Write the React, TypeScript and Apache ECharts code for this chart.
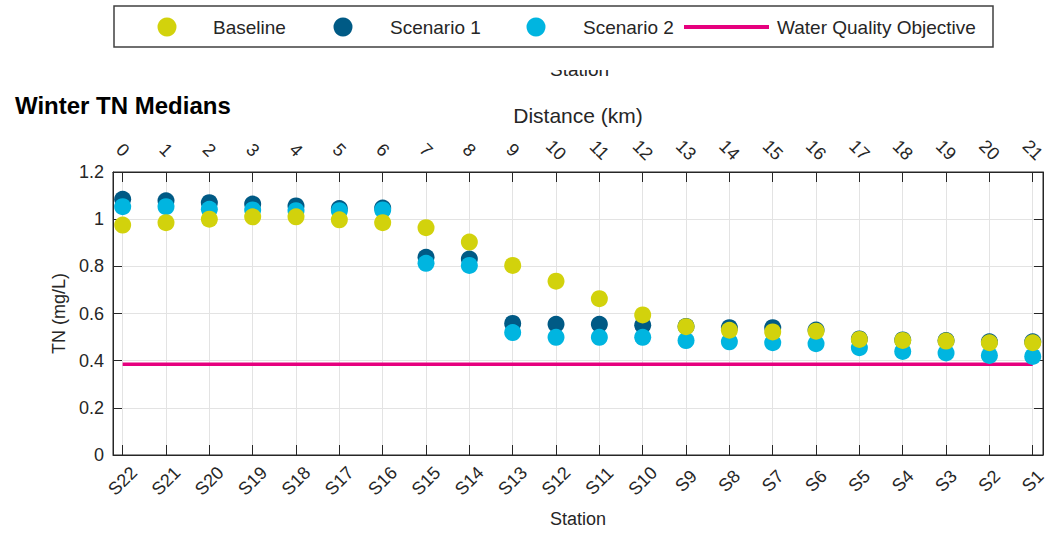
import React, { useEffect, useRef } from "react";
import * as echarts from "echarts";

const stations = ["S22", "S21", "S20", "S19", "S18", "S17", "S16", "S15", "S14", "S13", "S12", "S11", "S10", "S9", "S8", "S7", "S6", "S5", "S4", "S3", "S2", "S1"];
const distanceKm = [0, 1, 2, 3, 4, 5, 6, 7, 8, 9, 10, 11, 12, 13, 14, 15, 16, 17, 18, 19, 20, 21];
const baseline = [0.975, 0.985, 1.0, 1.01, 1.01, 0.997, 0.985, 0.964, 0.903, 0.804, 0.737, 0.663, 0.594, 0.544, 0.529, 0.522, 0.525, 0.49, 0.486, 0.483, 0.476, 0.476];
const scenario1 = [1.084, 1.078, 1.07, 1.064, 1.056, 1.045, 1.047, 0.838, 0.831, 0.558, 0.554, 0.554, 0.55, 0.545, 0.54, 0.54, 0.53, 0.492, 0.488, 0.485, 0.48, 0.48];
const scenario2 = [1.053, 1.053, 1.042, 1.039, 1.036, 1.036, 1.039, 0.813, 0.804, 0.519, 0.499, 0.499, 0.499, 0.485, 0.48, 0.476, 0.472, 0.455, 0.439, 0.433, 0.422, 0.418];
const waterQualityObjective = 0.385;

const FONT = "'Liberation Sans', Arial, sans-serif";
const TXT = "#262626";
const C_BASE = "#d2d20c";
const C_S1 = "#005a85";
const C_S2 = "#00b5e0";
const C_WQO = "#e6007e";

export default function App() {
  const ref = useRef<HTMLDivElement>(null);
  useEffect(() => {
    if (!ref.current) return;
    const chart = echarts.init(ref.current, null, { renderer: "svg" });
    const idx = stations.map((_, i) => i);
    const toPts = (arr: number[]) => arr.map((v, i) => [i, v]);
    const xMin = -0.223;
    const xMax = 21.237;
    const option: any = {
      animation: false,
      backgroundColor: "#ffffff",
      textStyle: { fontFamily: FONT },
      title: {
        text: "Winter TN Medians",
        left: 10,
        top: 88,
        textStyle: { fontFamily: FONT, fontWeight: "bold", fontSize: 24, color: "#000" },
      },
      grid: {
        left: 113,
        right: 2,
        top: 172,
        bottom: 79,
        containLabel: false,
        show: true,
        backgroundColor: "transparent",
        borderColor: TXT,
        borderWidth: 1,
      },
      xAxis: [
        {
          type: "value",
          position: "bottom",
          min: xMin,
          max: xMax,
          name: "Station",
          nameLocation: "middle",
          nameGap: 55,
          nameTextStyle: { fontFamily: FONT, fontSize: 18, color: TXT },
          axisLine: { show: true, onZero: false, lineStyle: { color: TXT, width: 1 } },
          axisTick: { show: true, inside: true, length: 10, customValues: idx, lineStyle: { color: TXT } },
          axisLabel: {
            customValues: idx,
            formatter: (v: number) => stations[Math.round(v)] ?? "",
            rotate: 45,
            align: "center",
            verticalAlign: "middle",
            margin: 26,
            fontSize: 18,
            color: TXT,
            fontFamily: FONT,
          },
          splitLine: { show: true, lineStyle: { color: "#e3e3e3", width: 1 } },
        },
        {
          type: "value",
          position: "top",
          min: xMin,
          max: xMax,
          name: "Distance (km)",
          nameLocation: "middle",
          nameGap: 46,
          nameTextStyle: { fontFamily: FONT, fontSize: 21, color: TXT },
          axisLine: { show: true, onZero: false, lineStyle: { color: TXT, width: 1 } },
          axisTick: { show: true, inside: true, length: 10, customValues: distanceKm, lineStyle: { color: TXT } },
          axisLabel: {
            customValues: distanceKm,
            formatter: (v: number) => String(v),
            rotate: 45,
            align: "center",
            verticalAlign: "middle",
            margin: 22,
            fontSize: 18,
            color: TXT,
            fontFamily: FONT,
          },
          splitLine: { show: false },
        },
      ],
      yAxis: [
        {
          type: "value",
          position: "left",
          min: 0,
          max: 1.2,
          interval: 0.2,
          name: "TN (mg/L)",
          nameLocation: "middle",
          nameGap: 44,
          nameRotate: 90,
          nameTextStyle: { fontFamily: FONT, fontSize: 18, color: TXT },
          axisLine: { show: true, onZero: false, lineStyle: { color: TXT, width: 1 } },
          axisTick: { show: true, inside: true, length: 9, lineStyle: { color: TXT } },
          axisLabel: { margin: 9, fontSize: 18, color: TXT, fontFamily: FONT },
          splitLine: { show: true, lineStyle: { color: "#e3e3e3", width: 1 } },
        },
        {
          type: "value",
          position: "right",
          min: 0,
          max: 1.2,
          interval: 0.2,
          axisLine: { show: true, onZero: false, lineStyle: { color: TXT, width: 1 } },
          axisTick: { show: true, inside: true, length: 9, lineStyle: { color: TXT } },
          axisLabel: { show: false },
          splitLine: { show: false },
        },
      ],
      series: [
        {
          name: "Water Quality Objective",
          type: "line",
          xAxisIndex: 0,
          yAxisIndex: 0,
          data: [[0, waterQualityObjective], [stations.length - 1, waterQualityObjective]],
          showSymbol: false,
          symbol: "none",
          lineStyle: { color: C_WQO, width: 3.5 },
          z: 2,
        },
        {
          name: "Scenario 1",
          type: "scatter",
          xAxisIndex: 0,
          yAxisIndex: 0,
          data: toPts(scenario1),
          symbol: "circle",
          symbolSize: 17,
          itemStyle: { color: C_S1, opacity: 1 },
          z: 3,
        },
        {
          name: "Scenario 2",
          type: "scatter",
          xAxisIndex: 0,
          yAxisIndex: 0,
          data: toPts(scenario2),
          symbol: "circle",
          symbolSize: 17,
          itemStyle: { color: C_S2, opacity: 1 },
          z: 4,
        },
        {
          name: "Baseline",
          type: "scatter",
          xAxisIndex: 0,
          yAxisIndex: 0,
          data: toPts(baseline),
          symbol: "circle",
          symbolSize: 17,
          itemStyle: { color: C_BASE, opacity: 1 },
          z: 5,
        },
      ],
      graphic: [
        {
          type: "text",
          left: 550,
          top: 60,
          style: { text: "Station", fontFamily: FONT, fontSize: 19, fill: TXT },
          z: 1,
        },
        {
          type: "rect",
          shape: { x: 530, y: 49, width: 110, height: 21 },
          style: { fill: "#ffffff" },
          z: 2,
        },
        {
          type: "rect",
          shape: { x: 114, y: 6, width: 879, height: 41 },
          style: { fill: "#ffffff", stroke: "#404040", lineWidth: 1.5 },
          z: 3,
        },
        { type: "circle", shape: { cx: 167, cy: 27, r: 9.5 }, style: { fill: C_BASE }, z: 4 },
        { type: "text", x: 213, y: 27, style: { text: "Baseline", fontFamily: FONT, fontSize: 19, fill: TXT, verticalAlign: "middle" }, z: 4 },
        { type: "circle", shape: { cx: 343, cy: 27, r: 9.5 }, style: { fill: C_S1 }, z: 4 },
        { type: "text", x: 390, y: 27, style: { text: "Scenario 1", fontFamily: FONT, fontSize: 19, fill: TXT, verticalAlign: "middle" }, z: 4 },
        { type: "circle", shape: { cx: 536, cy: 27, r: 9.5 }, style: { fill: C_S2 }, z: 4 },
        { type: "text", x: 583, y: 27, style: { text: "Scenario 2", fontFamily: FONT, fontSize: 19, fill: TXT, verticalAlign: "middle" }, z: 4 },
        { type: "line", shape: { x1: 684, y1: 27, x2: 769, y2: 27 }, style: { stroke: C_WQO, lineWidth: 4 }, z: 4 },
        { type: "text", x: 777, y: 27, style: { text: "Water Quality Objective", fontFamily: FONT, fontSize: 19, fill: TXT, verticalAlign: "middle" }, z: 4 },
      ],
    };
    chart.setOption(option);
    return () => chart.dispose();
  }, []);
  return (
    <div
      ref={ref}
      style={{ position: "fixed", left: 0, top: 0, width: 1049, height: 534, background: "#fff" }}
    />
  );
}
